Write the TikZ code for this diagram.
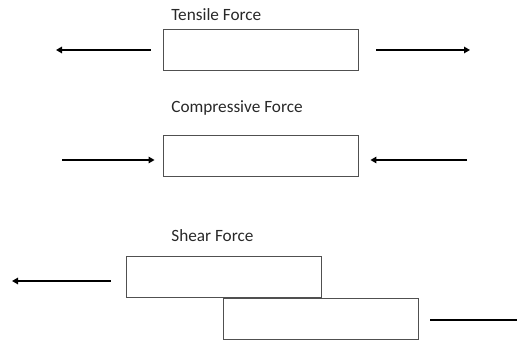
\documentclass[tikz,border=0pt]{standalone}
\usepackage{fontspec}
\setmainfont{Carlito}
\usetikzlibrary{arrows.meta}
\definecolor{boxgray}{RGB}{80,80,80}
\definecolor{textgray}{RGB}{40,40,40}
\tikzset{
  bar/.style={draw=boxgray, line width=0.5pt, minimum width=3.9cm, minimum height=0.82cm, inner sep=0pt},
  force/.style={line width=0.8pt, -{Triangle[length=1.2mm,width=1.3mm]}},
  title/.style={anchor=west, inner sep=0pt, text=textgray, font=\fontsize{9.8}{12}\selectfont}
}

\begin{document}
\begin{tikzpicture}
  \useasboundingbox (0,0) rectangle (10.34,-6.82);

  % tensile
  \node [title] (ttitle) at (3.42,-0.30) {Tensile Force};
  \node [bar] (tensile) at (5.21,-0.99) {};
  \coordinate (tL) at (1.12,-1.00);
  \coordinate (tR) at (9.40,-1.00);
  \draw [force, shorten <=0.24cm] (tensile.west |- tL) -- (tL);
  \draw [force, shorten <=0.36cm] (tensile.east |- tR) -- (tR);

  % compressive
  \node [title] (ctitle) at (3.42,-2.16) {Compressive Force};
  \node [bar] (compressive) at (5.21,-3.12) {};
  \coordinate (cL) at (1.24,-3.20);
  \coordinate (cR) at (9.34,-3.20);
  \draw [force, shorten >=0.16cm] (cL) -- (cL -| compressive.west);
  \draw [force, shorten >=0.24cm] (cR) -- (cR -| compressive.east);

  % shear
  \node [title] (stitle) at (3.42,-4.72) {Shear Force};
  \node [bar] (shearA) at (4.47,-5.53) {};
  \node [bar] (shearB) at (6.41,-6.37) {};
  \coordinate (sL) at (0.24,-5.62);
  \coordinate (sR) at (10.40,-6.40);
  \draw [force, shorten <=0.30cm] (shearA.west |- sL) -- (sL);
  \draw [line width=0.8pt, shorten <=0.24cm] (shearB.east |- sR) -- (sR);

\end{tikzpicture}
\end{document}
